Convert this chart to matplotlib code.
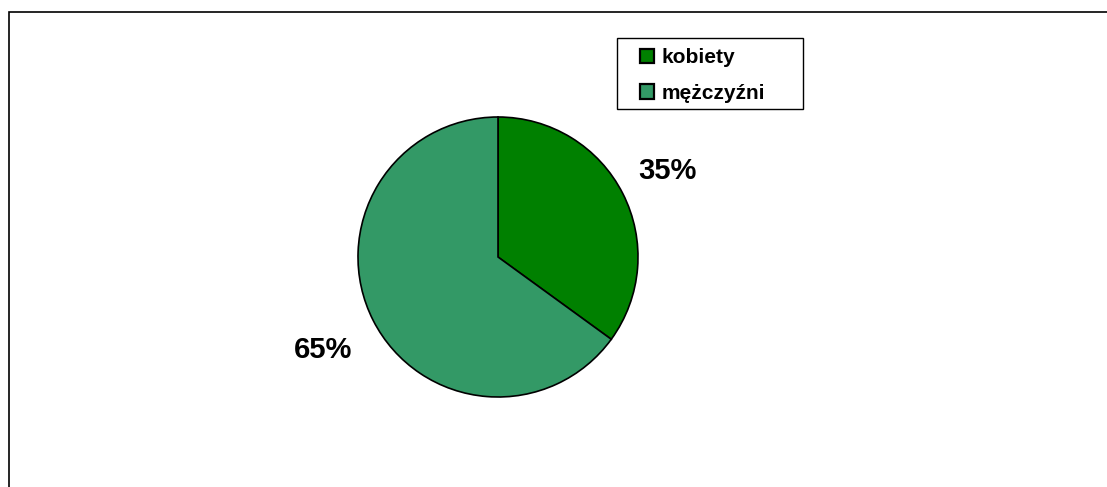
import matplotlib.pyplot as plt
from matplotlib.patches import Rectangle

labels = ["kobiety", "mężczyźni"]
shares = [35, 65]
colors = ["#008000", "#339966"]

W, H = 1107, 487
fig = plt.figure(figsize=(W / 100, H / 100), dpi=100)
plt.rcParams["font.family"] = ["Liberation Sans", "DejaVu Sans"]

# outer frame (cut off at right and bottom)
fig.patches.append(Rectangle((9 / W, -0.1), 1.2, 1.1 - 12 / H, transform=fig.transFigure,
                             fill=False, edgecolor="black", linewidth=1.2))

# pie centre (498, 257), radius 140 px
cx, cy, r = 498, 257, 140
ax = fig.add_axes([(cx - r) / W, (H - cy - r) / H, 2 * r / W, 2 * r / H])
wedges, texts, autotexts = ax.pie(
    shares, colors=colors, startangle=90, counterclock=False,
    autopct="%1.0f%%", pctdistance=1.36,
    wedgeprops=dict(edgecolor="black", linewidth=1.2),
    textprops=dict(fontsize=21, fontweight="bold", color="black"))
# the 65% label sits a bit further out in the original
x, y = autotexts[1].get_position()
autotexts[1].set_position((x * 1.03, y * 1.08))
ax.set_xlim(-1, 1)
ax.set_ylim(-1, 1)
ax.set_aspect("equal")

# legend box drawn by hand so it matches the original size
fig.patches.append(Rectangle((617 / W, 1 - 109 / H), 186 / W, 71 / H,
                             transform=fig.transFigure, facecolor="white",
                             edgecolor="black", linewidth=1.0))
leg = fig.legend(wedges, labels, loc="upper left",
                 bbox_to_anchor=(640 / W, 1 - 48 / H), frameon=False,
                 prop=dict(size=15, weight="bold"),
                 handlelength=0.68, handleheight=0.68, handletextpad=0.35,
                 borderpad=0, labelspacing=0.8, borderaxespad=0)
for h in leg.legend_handles:
    h.set_linewidth(1.6)

fig.savefig("out.png", dpi=100, facecolor="white")
